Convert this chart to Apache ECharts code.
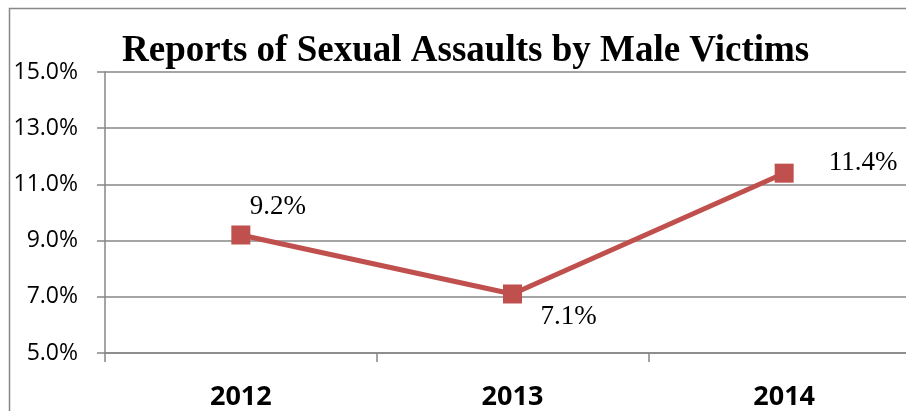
<!DOCTYPE html>
<html>
<head>
<meta charset="utf-8">
<script src="https://cdn.jsdelivr.net/npm/echarts@6/dist/echarts.min.js"></script>
<style>
    html, body { margin: 0; padding: 0; overflow: hidden; background: #fff; }
    #chart { width: 920px; height: 411px; }
</style>
</head>
<body>
<div id="chart"></div>
<script>
const years = ['2012', '2013', '2014']
const maleShare = [9.2, 7.1, 11.4]
const labelOffsets = [[37, -28], [56, 23], [79, -10]]

const chart = echarts.init(document.getElementById('chart'), null, { renderer: 'canvas' })

chart.setOption({
    backgroundColor: '#fff',
    animation: false,
    title: {
        text: 'Reports of Sexual Assaults by Male Victims',
        left: 122,
        top: 33,
        padding: 0,
        textStyle: {
            fontFamily: 'Liberation Serif',
            fontWeight: 'bold',
            fontSize: 37,
            lineHeight: 37,
            color: '#000',
        },
    },
    graphic: [{
        type: 'rect',
        silent: true,
        z: -1,
        shape: { x: 9.5, y: 8.5, width: 1000, height: 1000 },
        style: { fill: 'none', stroke: '#878787', lineWidth: 1.5 },
    }],
    grid: { left: 105, right: 0, top: 72, bottom: 58 },
    xAxis: {
        type: 'category',
        data: years,
        boundaryGap: true,
        axisLine: { lineStyle: { color: '#878787', width: 1.5 } },
        axisTick: { show: true, length: 9, lineStyle: { color: '#878787', width: 1.5 } },
        axisLabel: {
            margin: 31,
            fontFamily: 'Open Sans',
            fontWeight: 'bold',
            fontSize: 27,
            color: '#000',
        },
    },
    yAxis: {
        type: 'value',
        min: 5,
        max: 15,
        interval: 2,
        axisLine: { show: true, lineStyle: { color: '#878787', width: 1.5 } },
        axisTick: { show: true, length: 8, lineStyle: { color: '#878787', width: 1.5 } },
        splitLine: { lineStyle: { color: '#878787', width: 1.5 } },
        axisLabel: {
            margin: 27,
            formatter: v => v.toFixed(1) + '%',
            fontFamily: 'Open Sans',
            fontSize: 23,
            color: '#000',
        },
    },
    series: [{
        type: 'line',
        data: maleShare.map((v, i) => ({
            value: v,
            label: { offset: labelOffsets[i] },
        })),
        symbol: 'rect',
        symbolSize: 19,
        lineStyle: { color: '#C0504D', width: 5 },
        itemStyle: { color: '#C0504D' },
        label: {
            show: true,
            position: 'inside',
            align: 'center',
            verticalAlign: 'middle',
            formatter: p => p.value.toFixed(1) + '%',
            fontFamily: 'Liberation Serif',
            fontSize: 27,
            color: '#000',
        },
    }],
})
</script>
</body>
</html>
